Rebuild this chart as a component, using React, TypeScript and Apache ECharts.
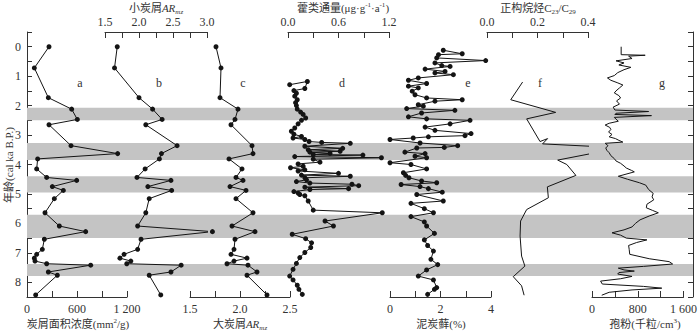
import React, { useEffect, useRef } from "react";
import * as echarts from "echarts";

// ---------- data ----------
const bandRanges = [[2.07, 2.5], [3.27, 3.85], [4.4, 4.95], [5.71, 6.5], [7.38, 7.79]];

// a, b, c share the same samples
const ageABC = [0, 0.72, 1.73, 2.12, 2.47, 2.65, 3.36, 3.63, 3.81, 4.15, 4.44, 4.54, 4.75, 4.88, 5.16, 5.64, 6.09, 6.28, 6.54, 6.88, 7.05, 7.18, 7.28, 7.37, 7.42, 7.65, 7.76, 8.43];
const areaConc = [264, 88, 256, 536, 604, 264, 528, 1088, 128, 116, 236, 596, 304, 436, 328, 216, 388, 704, 208, 184, 116, 88, 96, 236, 764, 256, 364, 104];
const smallAR = [1.68, 1.64, 2.0, 2.2, 2.34, 2.1, 2.56, 2.33, 2.3, 2.09, 1.97, 2.47, 2.13, 2.48, 2.15, 2.1, 1.98, 3.08, 2.03, 1.98, 1.78, 1.72, 1.88, 1.82, 2.62, 2.47, 2.15, 2.32];
const largeAR = [1.76, 1.81, 1.8, 1.98, 1.95, 1.91, 2.12, 2.13, 1.89, 2.02, 1.96, 2.03, 1.9, 2.06, 1.96, 2.13, 1.92, 2.15, 1.95, 1.94, 1.91, 2.07, 1.94, 1.87, 2.08, 2.17, 2.07, 2.27];

const hopAge = [1.29, 1.18, 1.42, 1.49, 1.58, 1.68, 1.8, 1.9, 2.0, 2.12, 2.22, 2.3, 2.42, 2.5, 2.62, 2.76, 2.87, 2.97, 3.05, 3.1, 3.15, 3.22, 3.25, 3.28, 3.38, 3.45, 3.5, 3.55, 3.58, 3.62, 3.66, 3.68, 3.73, 3.77, 3.82, 3.92, 3.98, 4.06, 4.11, 4.18, 4.22, 4.3, 4.36, 4.4, 4.45, 4.52, 4.58, 4.63, 4.67, 4.72, 4.77, 4.82, 4.85, 4.92, 4.97, 5.02, 5.06, 5.24, 5.55, 5.64, 5.92, 6.09, 6.37, 6.52, 6.66, 6.82, 6.99, 7.16, 7.36, 7.56, 7.79, 7.92, 8.1, 8.24, 8.41];
const hopFlux = [0.02, 0.23, 0.2, 0.07, 0.1, 0.08, 0.11, 0.09, 0.1, 0.11, 0.15, 0.18, 0.21, 0.16, 0.12, 0.08, 0.04, 0.07, 0.16, 0.06, 0.2, 0.25, 0.4, 0.74, 0.2, 0.65, 0.24, 0.62, 0.26, 0.5, 0.3, 0.89, 0.08, 1.11, 0.3, 0.38, 0.12, 0.18, 0.03, 0.2, 0.12, 0.6, 0.16, 0.74, 0.2, 0.22, 0.1, 0.26, 0.76, 0.84, 0.2, 0.72, 0.26, 0.07, 0.12, 0.14, 0.2, 0.24, 0.3, 1.12, 0.44, 0.54, 0.05, 0.21, 0.28, 0.27, 0.2, 0.14, 0.1, 0.06, 0.02, 0.06, 0.11, 0.13, 0.17];

const sphAge = [0.12, 0.24, 0.27, 0.38, 0.47, 0.55, 0.64, 0.67, 0.76, 0.84, 0.89, 0.95, 1.06, 1.14, 1.25, 1.34, 1.4, 1.51, 1.63, 1.74, 1.8, 1.85, 1.97, 2.02, 2.1, 2.16, 2.25, 2.38, 2.45, 2.5, 2.62, 2.73, 2.84, 2.95, 3.02, 3.06, 3.1, 3.15, 3.27, 3.36, 3.42, 3.44, 3.58, 3.63, 3.72, 3.77, 3.94, 4.0, 4.15, 4.28, 4.37, 4.45, 4.56, 4.62, 4.68, 4.75, 4.82, 4.94, 5.02, 5.24, 5.32, 5.5, 5.64, 5.77, 5.95, 6.09, 6.34, 6.56, 6.75, 6.94, 7.22, 7.4, 7.58, 7.79, 7.92, 8.18, 8.24, 8.41];
const sphagnum = [2.11, 2.86, 1.92, 1.85, 3.79, 1.78, 2.05, 2.38, 1.39, 2.18, 1.78, 2.51, 1.12, 0.73, 1.45, 0.73, 1.12, 0.88, 0.99, 1.45, 2.86, 1.78, 1.12, 1.32, 0.66, 2.57, 1.25, 0.73, 1.45, 3.17, 2.38, 1.39, 1.78, 3.21, 2.97, 1.52, 0.92, 0, 1.19, 2.68, 2.15, 1.06, 0.59, 1.39, 0.99, 1.45, 0, 0.83, 1.45, 0.53, 0.62, 0.75, 1.25, 1.85, 0.44, 1.19, 1.52, 2.07, 1.06, 2.11, 0.83, 1.36, 1.72, 0.83, 1.36, 1.45, 1.76, 1.36, 1.49, 1.72, 1.62, 1.89, 1.45, 1.12, 1.72, 1.85, 1.76, 1.49];

const alkAge = [1.2, 1.8, 2.23, 2.45, 3.22, 3.12, 3.3, 3.38, 3.55, 3.85, 4.0, 4.37, 4.76, 5.13, 5.53, 5.92, 6.43, 7.11, 7.45, 7.81, 8.12, 8.44];
const alkRatio = [0.141, 0.094, 0.272, 0.157, 0.21, 0.24, 0.22, 0.408, 0.46, 0.28, 0.316, 0.352, 0.239, 0.243, 0.157, 0.133, 0.131, 0.137, 0.15, 0.104, 0.137, 0.147];

const polAge = [0.0, 0.27, 0.29, 0.32, 0.4, 0.48, 0.55, 0.62, 0.7, 0.78, 0.88, 0.98, 1.06, 1.14, 1.22, 1.3, 1.4, 1.5, 1.57, 1.66, 1.74, 1.84, 1.95, 2.05, 2.15, 2.2, 2.26, 2.3, 2.34, 2.4, 2.46, 2.53, 2.6, 2.66, 2.74, 2.81, 2.9, 2.98, 3.06, 3.12, 3.18, 3.24, 3.28, 3.36, 3.44, 3.52, 3.6, 3.7, 3.8, 3.88, 3.96, 4.05, 4.12, 4.2, 4.25, 4.4, 4.5, 4.62, 4.7, 4.85, 4.98, 5.1, 5.2, 5.35, 5.47, 5.56, 5.64, 5.75, 5.88, 6.0, 6.12, 6.22, 6.32, 6.4, 6.5, 6.56, 6.65, 6.75, 6.88, 7.05, 7.2, 7.3, 7.38, 7.46, 7.52, 7.58, 7.62, 7.67, 7.72, 7.8, 7.88, 7.96, 8.06, 8.14, 8.2, 8.26, 8.34, 8.44];
const pollen = [510, 510, 930, 640, 700, 420, 560, 470, 680, 560, 450, 390, 270, 330, 440, 540, 480, 420, 390, 470, 500, 430, 480, 370, 400, 990, 420, 400, 1040, 390, 420, 460, 300, 230, 310, 330, 290, 350, 300, 410, 470, 540, 230, 280, 240, 260, 300, 330, 390, 420, 500, 560, 600, 690, 740, 460, 620, 830, 940, 990, 1070, 1050, 1080, 960, 950, 1060, 1160, 1000, 840, 760, 700, 560, 350, 500, 600, 960, 780, 640, 650, 660, 1000, 1350, 1410, 900, 460, 560, 740, 470, 450, 700, 500, 150, 180, 900, 1220, 700, 300, 170];

const panelLetters = ["a", "b", "c", "d", "e", "f", "g"];

// ---------- styles / layout ----------
const FONT = "'Liberation Serif','Times New Roman','Noto Sans CJK SC',serif";
const TXT = "#333";
const INK = "#141414";
const AX = "#333";
const TOP = 32;
const H = 265;

const near = (v: number, step: number) => Math.abs(v / step - Math.round(v / step)) < 1e-6;

const panels = [
  { left: 27, right: 127, min: 0, max: 1200, interval: 300, pos: "bottom", ages: ageABC, vals: areaConc, marker: true,
    fmt: (v: number) => (near(v, 600) ? (v >= 1000 ? "1 200" : String(v)) : "") },
  { left: 105, right: 207, min: 1.5, max: 3.0, interval: 0.25, pos: "top", ages: ageABC, vals: smallAR, marker: true,
    fmt: (v: number) => (near(v, 0.5) ? v.toFixed(1) : "") },
  { left: 190, right: 290, min: 1.5, max: 2.5, interval: 0.25, pos: "bottom", ages: ageABC, vals: largeAR, marker: true,
    fmt: (v: number) => (near(v, 0.5) ? v.toFixed(1) : "") },
  { left: 288, right: 389, min: 0, max: 1.2, interval: 0.3, pos: "top", ages: hopAge, vals: hopFlux, marker: true,
    fmt: (v: number) => (near(v, 0.6) ? v.toFixed(1) : "") },
  { left: 390, right: 491, min: 0, max: 4, interval: 1, pos: "bottom", ages: sphAge, vals: sphagnum, marker: true,
    fmt: (v: number) => (near(v, 2) ? String(Math.round(v)) : "") },
  { left: 487, right: 588, min: 0, max: 0.4, interval: 0.1, pos: "top", ages: alkAge, vals: alkRatio, marker: false,
    fmt: (v: number) => (near(v, 0.2) ? v.toFixed(1) : "") },
  { left: 592, right: 693, min: 0, max: 1600, interval: 400, pos: "bottom", ages: polAge, vals: pollen, marker: false,
    fmt: (v: number) => (near(v, 800) ? (v >= 1000 ? "1 600" : String(Math.round(v))) : "") },
];
const letterX = [80, 159, 243, 342, 468, 540, 662];

const rich = {
  n: { fontFamily: FONT, fontSize: 11, fill: TXT, lineHeight: 14 },
  i: { fontFamily: FONT, fontSize: 11, fontStyle: "italic", fill: TXT, lineHeight: 14 },
  s: { fontFamily: FONT, fontSize: 7, fontStyle: "italic", fill: TXT, verticalAlign: "bottom", lineHeight: 8 },
  sn: { fontFamily: FONT, fontSize: 7, fill: TXT, verticalAlign: "bottom", lineHeight: 8 },
  p: { fontFamily: FONT, fontSize: 7, fill: TXT, verticalAlign: "top", lineHeight: 8 },
};

const richText = (x: number, y: number, text: string) => ({
  type: "text",
  x,
  y,
  style: { text, rich, align: "center", verticalAlign: "middle", fontFamily: FONT, fontSize: 11, fill: TXT },
});

export default function App() {
  const ref = useRef<HTMLDivElement>(null);
  useEffect(() => {
    document.body.style.margin = "0";
    if (!ref.current) return;
    const chart = echarts.init(ref.current, undefined, { renderer: "svg" });

    const ageFmt = (v: number) => (near(v, 1) ? String(Math.round(v)) : "");
    const grids: any[] = [{ left: 27, width: 666, top: TOP, height: H }];
    const xAxes: any[] = [{ gridIndex: 0, type: "value", min: 0, max: 1, show: false }];
    const yBase = {
      type: "value", inverse: true, min: -0.5, max: 8.5, interval: 0.5,
      axisLine: { show: true, onZero: false, lineStyle: { color: AX, width: 1 } },
      axisTick: { show: true, inside: true, length: 5, lineStyle: { color: AX } },
      splitLine: { show: false },
    };
    const yAxes: any[] = [
      { ...yBase, gridIndex: 0, position: "left",
        axisLabel: { formatter: ageFmt, margin: 6, fontFamily: FONT, fontSize: 12, color: TXT } },
      { ...yBase, gridIndex: 0, position: "right", axisLabel: { show: false } },
    ];
    const series: any[] = [
      {
        type: "line", xAxisIndex: 0, yAxisIndex: 0, data: [], z: 0, silent: true,
        markArea: {
          silent: true,
          itemStyle: { color: "#c4c4c4" },
          data: bandRanges.map(([a, b]) => [{ yAxis: a }, { yAxis: b }]),
        },
      },
    ];

    panels.forEach((p, i) => {
      grids.push({ left: p.left, width: p.right - p.left, top: TOP, height: H });
      xAxes.push({
        gridIndex: i + 1, type: "value", position: p.pos, min: p.min, max: p.max, interval: p.interval,
        axisLine: { show: true, onZero: false, lineStyle: { color: AX, width: 1 } },
        axisTick: { show: true, inside: true, length: 6, lineStyle: { color: AX } },
        axisLabel: { formatter: p.fmt, margin: p.pos === "top" ? 4 : 6, fontFamily: FONT, fontSize: 12, color: TXT,
          showMinLabel: true, showMaxLabel: true, hideOverlap: false },
        splitLine: { show: false },
      });
      yAxes.push({ gridIndex: i + 1, type: "value", inverse: true, min: -0.5, max: 8.5, show: false });
      series.push({
        type: "line", xAxisIndex: i + 1, yAxisIndex: i + 2,
        data: p.ages.map((a, k) => [p.vals[k], a]),
        symbol: p.marker ? "circle" : "none", symbolSize: 5, showSymbol: p.marker,
        itemStyle: { color: INK }, lineStyle: { color: INK, width: 1 },
        clip: false, z: 3, silent: true,
      });
    });

    const graphics: any[] = [
      richText(156, 8, "{n|小炭屑}{i|AR}{s|mz}"),
      richText(343, 8, "{n|藿类通量(μg·g}{p|-1}{n|·a}{p|-1}{n|)}"),
      richText(538, 8, "{n|正构烷烃C}{sn|23}{n|/C}{sn|29}"),
      richText(78, 324, "{n|炭屑面积浓度(mm}{p|2}{n|/g)}"),
      richText(240, 324, "{n|大炭屑}{i|AR}{s|mz}"),
      richText(441, 324, "{n|泥炭藓(%)}"),
      richText(645, 324, "{n|孢粉(千粒/cm}{p|3}{n|)}"),
      {
        type: "text", x: 9, y: 165, rotation: Math.PI / 2,
        style: { text: "年龄(cal ka B.P.)", align: "center", verticalAlign: "middle", fontFamily: FONT, fontSize: 11, fill: TXT },
      },
      ...panelLetters.map((l, i) => ({
        type: "text", x: letterX[i], y: 83,
        style: { text: l, align: "center", verticalAlign: "middle", fontFamily: FONT, fontSize: 12, fill: TXT },
      })),
    ];

    chart.setOption({
      animation: false,
      backgroundColor: "#fff",
      grid: grids,
      xAxis: xAxes,
      yAxis: yAxes,
      series,
      graphic: graphics,
    });
    return () => chart.dispose();
  }, []);
  return <div ref={ref} style={{ width: 700, height: 331 }} />;
}
